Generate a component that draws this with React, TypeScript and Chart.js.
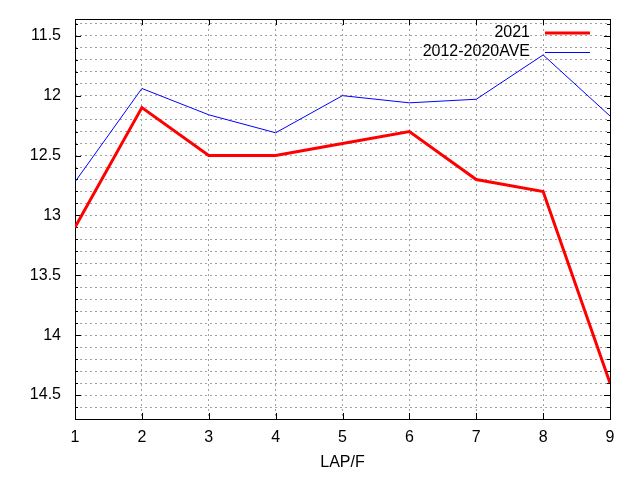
import React, { useEffect, useRef } from "react";
import { Chart, registerables } from "chart.js";

Chart.register(...registerables);

const laps = [1, 2, 3, 4, 5, 6, 7, 8, 9];
const series2021 = [13.1, 12.1, 12.5, 12.5, 12.4, 12.3, 12.7, 12.8, 14.4];
const seriesAve = [12.72, 11.94, 12.16, 12.31, 12.0, 12.06, 12.03, 11.66, 12.17];
const seriesLabels = ["2021", "2012-2020AVE"];
const seriesColors = ["#ff0000", "#0000ff"];
const seriesWidths = [3, 1];
const yMajorTicks = [11.5, 12, 12.5, 13, 13.5, 14, 14.5];
const yMin = 11.36;
const yMax = 14.7;
const xLabel = "LAP/F";

const FONT = "'Liberation Sans', Arial, sans-serif";
const FSIZE = 16;

const framePlugin = {
  id: "gnuFrame",
  beforeDatasetsDraw(chart: any) {
    const { ctx, chartArea } = chart;
    const { left, right, top, bottom } = chartArea;
    const xs = chart.scales.x;
    const ys = chart.scales.y;
    ctx.save();
    ctx.strokeStyle = "#000";
    ctx.lineWidth = 1;
    ctx.setLineDash([]);
    ctx.beginPath();
    for (const t of ys.ticks) {
      const v = Math.round(t.value * 10) / 10;
      const isMajor = yMajorTicks.some((m) => Math.abs(m - v) < 1e-6);
      const len = isMajor ? 6 : 3;
      const py = Math.round(ys.getPixelForValue(v)) + 0.5;
      ctx.moveTo(left, py);
      ctx.lineTo(left + len, py);
      ctx.moveTo(right, py);
      ctx.lineTo(right - len, py);
    }
    for (const v of laps) {
      const px = Math.round(xs.getPixelForValue(v)) + 0.5;
      ctx.moveTo(px, bottom);
      ctx.lineTo(px, bottom - 6);
      ctx.moveTo(px, top);
      ctx.lineTo(px, top + 6);
    }
    ctx.stroke();
    ctx.strokeRect(Math.round(left) + 0.5, Math.round(top) + 0.5, Math.round(right - left), Math.round(bottom - top));
    ctx.restore();
  },
  afterDatasetsDraw(chart: any) {
    const { ctx } = chart;
    ctx.save();
    ctx.font = `${FSIZE}px ${FONT}`;
    ctx.fillStyle = "#000";
    ctx.textAlign = "right";
    ctx.textBaseline = "middle";
    const rowsY = [33, 52];
    seriesLabels.forEach((lab, i) => {
      const y = rowsY[i];
      ctx.fillText(lab, 530, y);
      ctx.strokeStyle = seriesColors[i];
      ctx.lineWidth = seriesWidths[i];
      ctx.beginPath();
      const off = seriesWidths[i] === 1 ? 0.5 : 0;
      ctx.moveTo(545, y + off);
      ctx.lineTo(590, y + off);
      ctx.stroke();
    });
    ctx.restore();
  },
};

export default function App() {
  const ref = useRef<HTMLCanvasElement | null>(null);
  useEffect(() => {
    document.body.style.margin = "0";
    const canvas = ref.current;
    if (!canvas) return;
    const chart = new Chart(canvas, {
      type: "line",
      data: {
        datasets: [
          {
            label: seriesLabels[0],
            data: laps.map((x, i) => ({ x, y: series2021[i] })),
            borderColor: seriesColors[0],
            borderWidth: seriesWidths[0],
            pointRadius: 0,
            tension: 0,
            borderJoinStyle: "miter",
          },
          {
            label: seriesLabels[1],
            data: laps.map((x, i) => ({ x, y: seriesAve[i] })),
            borderColor: seriesColors[1],
            borderWidth: seriesWidths[1],
            pointRadius: 0,
            tension: 0,
          },
        ],
      },
      options: {
        responsive: false,
        animation: false,
        devicePixelRatio: 1,
        layout: { autoPadding: false, padding: { top: 19, right: 30, left: 0, bottom: 0 } },
        plugins: {
          legend: { display: false },
          tooltip: { enabled: false },
        },
        scales: {
          x: {
            type: "linear",
            min: 1,
            max: 9,
            ticks: {
              stepSize: 1,
              color: "#000",
              font: { family: FONT, size: FSIZE },
              padding: 9,
              maxRotation: 0,
            },
            grid: { color: "#a0a0a0", drawTicks: false, lineWidth: 1 },
            border: { display: false, dash: [2, 3] },
            title: {
              display: true,
              text: xLabel,
              color: "#000",
              font: { family: FONT, size: FSIZE },
              padding: { top: 0, bottom: 8 },
            },
            afterFit: (scale: any) => {
              scale.height = 61;
              scale.paddingLeft = 0;
              scale.paddingRight = 0;
            },
          },
          y: {
            type: "linear",
            reverse: true,
            min: yMin,
            max: yMax,
            afterBuildTicks: (scale: any) => {
              const t: any[] = [];
              for (let k = Math.ceil(yMin * 10); k <= Math.floor(yMax * 10 - 0.5); k++) {
                t.push({ value: k / 10 });
              }
              scale.ticks = t;
            },
            ticks: {
              color: "#000",
              font: { family: FONT, size: FSIZE },
              padding: 14,
              autoSkip: false,
              callback: (v: any) => {
                const n = Math.round(Number(v) * 10) / 10;
                return yMajorTicks.some((m) => Math.abs(m - n) < 1e-6) ? String(n) : "";
              },
            },
            grid: { color: "#a0a0a0", drawTicks: false, lineWidth: 1 },
            border: { display: false, dash: [2, 3] },
            afterFit: (scale: any) => {
              scale.width = 75;
              scale.paddingTop = 0;
              scale.paddingBottom = 0;
            },
          },
        },
      },
      plugins: [framePlugin],
    });
    return () => chart.destroy();
  }, []);
  return (
    <div style={{ position: "fixed", left: 0, top: 0, width: 640, height: 480, background: "#fff" }}>
      <canvas ref={ref} width={640} height={480} style={{ width: 640, height: 480 }} />
    </div>
  );
}
